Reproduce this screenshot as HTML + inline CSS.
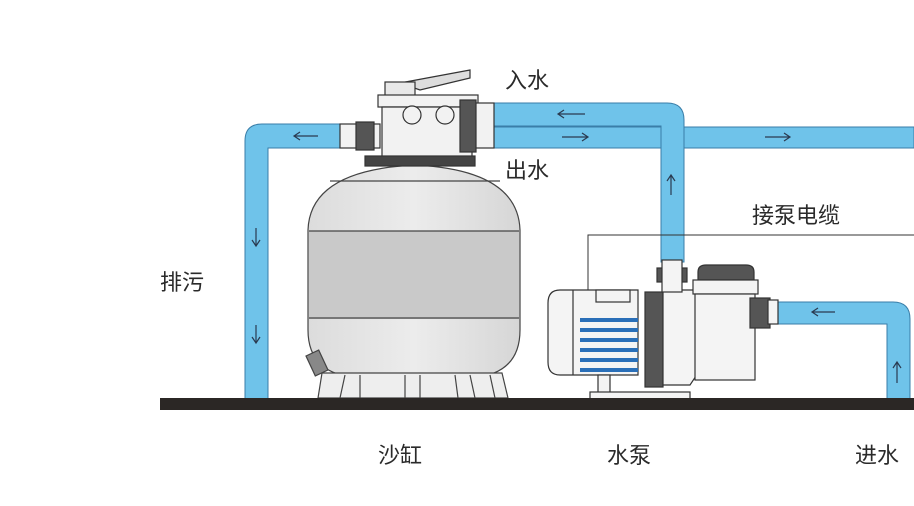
<!DOCTYPE html>
<html><head><meta charset="utf-8"><style>
html,body{margin:0;padding:0;background:#fff;}
svg{display:block}
text{font-family:"Liberation Sans","Noto Sans CJK SC",sans-serif;font-size:22px;fill:#2a2a2a}
</style></head><body>
<svg width="914" height="506" viewBox="0 0 914 506" xmlns="http://www.w3.org/2000/svg">
<defs>
<linearGradient id="tk" x1="0" x2="1"><stop offset="0" stop-color="#dcdcdc"/><stop offset="0.5" stop-color="#ececec"/><stop offset="1" stop-color="#d6d6d6"/></linearGradient>
</defs>
<g fill="#6fc3ea" stroke="#3a7ea8" stroke-width="1">
<path d="M360 124 H262 Q245 124 245 141 V400 H268 V148 H360 Z"/>
<path d="M487 103 H667 Q684 103 684 120 V262 H661 V126 H487 Z"/>
<rect x="487" y="127" width="174" height="21"/>
<rect x="684" y="127" width="230" height="21"/>
<path d="M770 302 H893 Q910 302 910 319 V400 H887 V324 H770 Z"/>
</g>
<g stroke="#2a3a50" stroke-width="1.2" fill="none">
<path d="M318 136 H294 M300 132 L294 136 L300 140"/>
<path d="M585 114 H558 M564 110 L558 114 L564 118"/>
<path d="M562 137 H588 M582 133 L588 137 L582 141"/>
<path d="M765 137 H790 M784 133 L790 137 L784 141"/>
<path d="M256 228 V246 M252 240 L256 246 L260 240"/>
<path d="M256 325 V343 M252 337 L256 343 L260 337"/>
<path d="M671 195 V175 M667 181 L671 175 L675 181"/>
<path d="M835 312 H812 M818 308 L812 312 L818 316"/>
<path d="M897 383 V362 M893 368 L897 362 L901 368"/>
</g>
<path d="M914 235 H588 V292" stroke="#333" stroke-width="1" fill="none"/>
<g stroke="#444" stroke-width="1.2">
<path d="M308 230 Q310 170 415 165 Q518 170 520 230 V330 Q520 375 470 378 H360 Q308 375 308 330 Z" fill="url(#tk)"/>
<rect x="309" y="231" width="210" height="88" fill="#c9c9c9" stroke="none"/>
<line x1="309" y1="231" x2="519" y2="231"/><line x1="309" y1="318" x2="519" y2="318"/>
<line x1="330" y1="181" x2="500" y2="181"/>
<path d="M322 373 L318 398 H508 L502 373 Z" fill="#eee"/>
<g fill="none"><path d="M345 375 L340 398 M360 375 V398 M405 375 V398 M420 375 V398 M455 375 L458 398 M470 375 L475 398 M490 375 L495 398"/></g>
<rect x="310" y="352" width="14" height="22" fill="#888" transform="rotate(-25 317 363)"/>
</g>
<g stroke="#333" stroke-width="1.2" fill="#f2f2f2">
<path d="M400 83 L470 70 L470 78 L420 90 Z" fill="#ddd"/>
<rect x="385" y="82" width="30" height="14" fill="#e8e8e8"/>
<rect x="378" y="95" width="100" height="12"/>
<path d="M382 107 H472 V160 H382 Z"/>
<rect x="365" y="156" width="110" height="10" fill="#444"/>
<rect x="340" y="124" width="40" height="24"/>
<rect x="474" y="103" width="20" height="45"/>
<circle cx="412" cy="115" r="9"/><circle cx="445" cy="115" r="9"/>
<rect x="356" y="122" width="18" height="28" fill="#555"/>
<rect x="460" y="100" width="16" height="52" fill="#555"/>
</g>
<g stroke="#333" stroke-width="1.2" fill="#f4f4f4">
<path d="M560 290 H638 V375 H560 Q548 375 548 362 V303 Q548 290 560 290 Z"/>
<rect x="596" y="290" width="34" height="12"/>
<g fill="#2a6fb8" stroke="none">
<rect x="580" y="318" width="58" height="4"/><rect x="580" y="328" width="58" height="4"/><rect x="580" y="338" width="58" height="4"/><rect x="580" y="348" width="58" height="4"/><rect x="580" y="358" width="58" height="4"/><rect x="580" y="368" width="58" height="4"/>
</g>
<line x1="573" y1="290" x2="573" y2="375"/>
<rect x="598" y="375" width="12" height="18"/>
<rect x="590" y="392" width="100" height="7"/>
<rect x="645" y="292" width="18" height="95" fill="#555"/>
<path d="M663 290 H695 L720 340 L690 385 H663 Z"/>
<rect x="657" y="268" width="30" height="14" fill="#555"/>
<rect x="662" y="260" width="20" height="32"/>
<path d="M698 272 Q698 265 706 265 H746 Q754 265 754 272 V280 H698 Z" fill="#555"/>
<rect x="693" y="280" width="65" height="14"/>
<rect x="695" y="294" width="60" height="86"/>
<rect x="750" y="298" width="20" height="30" fill="#555"/>
<rect x="768" y="300" width="10" height="24"/>
</g>
<rect x="160" y="398" width="754" height="12" fill="#2b2725"/>
<text x="505" y="88">入水</text>
<text x="505" y="178">出水</text>
<text x="160" y="290">排污</text>
<text x="752" y="223">接泵电缆</text>
<text x="378" y="463">沙缸</text>
<text x="607" y="463">水泵</text>
<text x="855" y="463">进水</text>
</svg>
</body></html>
